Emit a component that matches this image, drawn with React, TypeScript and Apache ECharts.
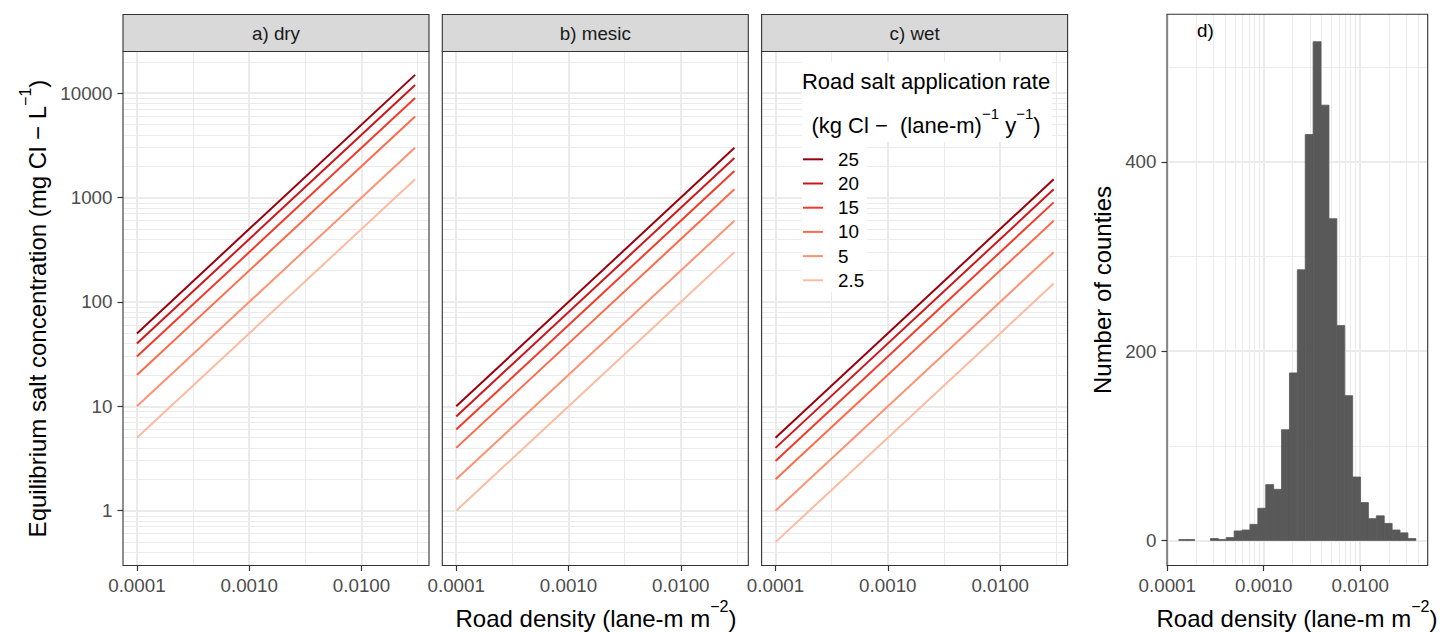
import React, { useEffect, useRef } from 'react';
import * as echarts from 'echarts';

const FONT = "'Liberation Sans', Arial, Helvetica, sans-serif";

// ---------- data ----------
const rates = ['25', '20', '15', '10', '5', '2.5'];
const rateColors = ['#99000D', '#CB181D', '#EF3B2C', '#FB6A4A', '#FC9272', '#FCBBA1'];
const roadDensityEnds = [0.0001, 0.03];
const dryConc = [[50, 15000], [40, 12000], [30, 9000], [20, 6000], [10, 3000], [5, 1500]];
const mesicConc = [[10, 3000], [8, 2400], [6, 1800], [4, 1200], [2, 600], [1, 300]];
const wetConc = [[5, 1500], [4, 1200], [3, 900], [2, 600], [1, 300], [0.5, 150]];
const panelTitles = ['a) dry', 'b) mesic', 'c) wet'];
const xTickValues = [0.0001, 0.001, 0.01];
const yTickValues = [1, 10, 100, 1000, 10000];
const histCounts = [1, 1, 0, 0, 2, 1, 3, 10, 11, 17, 34, 59, 54, 117, 177, 286, 429, 527, 460, 340, 227, 153, 67, 40, 23, 26, 18, 11, 8, 2];
const histFirstEdge = 0.0001318; // road density at the first bin's left edge
const histBinWidthLog10 = 0.0819; // bin width in log10 units
const histYTicks = [0, 200, 400];
const histYMinor = [100, 300, 500];

// ---------- layout ----------
const panelLefts = [123, 442.3, 761.6];
const panelW = 306;
const panelTop = 51.5;
const panelH = 514;
const stripTop = 14.5;
const stripH = 37;
const dLeft = 1167;
const dTop = 14.3;
const dW = 260.7;
const dH = 551.2;
const XR = [-4.124, -1.399];
const YR = [-0.525, 4.4];
const DXR = [-4.003, -1.3];
const DYR = [-26.5, 556];

const GRID_COLOR = '#ebebeb';
const L10 = (v: number) => Math.log10(v);

function logMinor(lo: number, hi: number) {
  const out: number[] = [];
  for (let n = -6; n <= 6; n++) {
    for (let k = 2; k <= 9; k++) {
      const v = Math.log10(k) + n;
      if (v > lo && v < hi) out.push(v);
    }
  }
  return out;
}

function gridSeries(idx: number, xMaj: number[], xMin: number[], yMaj: number[], yMin: number[]) {
  const item = (key: string, v: number, w: number) => ({ [key]: v, lineStyle: { color: GRID_COLOR, width: w, type: 'solid' } });
  return {
    type: 'line',
    xAxisIndex: idx,
    yAxisIndex: idx,
    data: [],
    silent: true,
    z: 0,
    markLine: {
      silent: true,
      z: 0,
      symbol: ['none', 'none'],
      label: { show: false },
      emphasis: { disabled: true },
      animation: false,
      data: [
        ...xMin.map((v) => item('xAxis', v, 1)),
        ...yMin.map((v) => item('yAxis', v, 1)),
        ...xMaj.map((v) => item('xAxis', v, 2)),
        ...yMaj.map((v) => item('yAxis', v, 2)),
      ],
    },
  };
}

function buildOption() {
  const grids: any[] = panelLefts.map((l) => ({ left: l, top: panelTop, width: panelW, height: panelH, show: false }));
  grids.push({ left: dLeft, top: dTop, width: dW, height: dH, show: false });

  const tickStyle = { show: true, length: 5.5, lineStyle: { color: '#333333', width: 1.2 } };
  const labelStyle = { color: '#4d4d4d', fontSize: 18.8, fontFamily: FONT, margin: 10.5 };
  const xLogTicks = xTickValues.map(L10);
  const xFmt = (v: number) => Math.pow(10, v).toFixed(4);

  const xAxes: any[] = [0, 1, 2].map((i) => ({
    type: 'value', gridIndex: i, min: XR[0], max: XR[1],
    axisLine: { show: false, onZero: false }, splitLine: { show: false },
    axisTick: { ...tickStyle, customValues: xLogTicks },
    axisLabel: { ...labelStyle, customValues: xLogTicks, formatter: xFmt },
  }));
  xAxes.push({
    type: 'value', gridIndex: 3, min: DXR[0], max: DXR[1],
    axisLine: { show: false, onZero: false }, splitLine: { show: false },
    axisTick: { ...tickStyle, customValues: xLogTicks },
    axisLabel: { ...labelStyle, customValues: xLogTicks, formatter: xFmt },
  });

  const yLogTicks = yTickValues.map(L10);
  const yAxes: any[] = [0, 1, 2].map((i) => ({
    type: 'value', gridIndex: i, min: YR[0], max: YR[1],
    axisLine: { show: false, onZero: false }, splitLine: { show: false },
    axisTick: i === 0 ? { ...tickStyle, customValues: yLogTicks } : { show: false },
    axisLabel: i === 0
      ? { ...labelStyle, customValues: yLogTicks, formatter: (v: number) => String(Math.round(Math.pow(10, v))) }
      : { show: false },
  }));
  yAxes.push({
    type: 'value', gridIndex: 3, min: DYR[0], max: DYR[1],
    axisLine: { show: false, onZero: false }, splitLine: { show: false },
    axisTick: { ...tickStyle, customValues: histYTicks },
    axisLabel: { ...labelStyle, customValues: histYTicks, formatter: (v: number) => String(v) },
  });

  const series: any[] = [];
  const xMinorABC = [-3.5, -2.5, -1.5];
  for (let p = 0; p < 3; p++) {
    series.push(gridSeries(p, xLogTicks, xMinorABC, yLogTicks, logMinor(YR[0], YR[1])));
  }
  series.push(gridSeries(3, xLogTicks.filter((v) => v > DXR[0]), logMinor(DXR[0], DXR[1]), histYTicks, histYMinor));

  const concs = [dryConc, mesicConc, wetConc];
  concs.forEach((conc, p) => {
    conc.forEach((vals, r) => {
      series.push({
        type: 'line', name: rates[r], xAxisIndex: p, yAxisIndex: p,
        data: roadDensityEnds.map((x, j) => [L10(x), L10(vals[j])]),
        showSymbol: false, symbol: 'none', silent: true, z: 10,
        lineStyle: { color: rateColors[r], width: 2 },
        itemStyle: { color: rateColors[r] },
      });
    });
  });

  const firstLog = L10(histFirstEdge);
  series.push({
    type: 'custom', xAxisIndex: 3, yAxisIndex: 3, z: 10, silent: true,
    data: histCounts.map((c, i) => [firstLog + i * histBinWidthLog10, firstLog + (i + 1) * histBinWidthLog10, c]),
    encode: { x: [0, 1], y: 2 },
    renderItem: (params: any, api: any) => {
      const c = api.value(2);
      if (!c) return null;
      const p0 = api.coord([api.value(0), c]);
      const p1 = api.coord([api.value(1), 0]);
      return {
        type: 'rect',
        z2: 10,
        shape: { x: p0[0], y: p0[1], width: p1[0] - p0[0], height: p1[1] - p0[1] },
        style: { fill: '#595959', stroke: '#595959', lineWidth: 0.8 },
      };
    },
  });

  const graphic: any[] = [];
  // strips
  panelLefts.forEach((l, i) => {
    graphic.push({ type: 'rect', z: 100, shape: { x: l, y: stripTop, width: panelW, height: stripH }, style: { fill: '#d9d9d9', stroke: '#333333', lineWidth: 1.1 } });
    graphic.push({ type: 'text', z: 101, x: l + panelW / 2, y: stripTop + stripH / 2, style: { text: panelTitles[i], fill: '#1a1a1a', fontSize: 18.8, fontFamily: FONT, align: 'center', verticalAlign: 'middle' } });
  });
  // legend backgrounds
  graphic.push({ type: 'rect', z: 50, shape: { x: 802, y: 62, width: 250, height: 80 }, style: { fill: '#ffffff' } });
  graphic.push({ type: 'rect', z: 50, shape: { x: 802, y: 142, width: 65, height: 150 }, style: { fill: '#ffffff' } });
  graphic.push({ type: 'text', z: 51, x: 926, y: 81, style: { text: 'Road salt application rate', fill: '#000', fontSize: 22, fontFamily: FONT, align: 'center', verticalAlign: 'middle' } });
  const richMain = (fs: number, lh: number) => ({ fontSize: fs, fontFamily: FONT, fill: '#000', lineHeight: lh, verticalAlign: 'bottom' });
  const richSup = (fs: number) => ({ fontSize: fs, fontFamily: FONT, fill: '#000', lineHeight: fs, verticalAlign: 'top' });
  graphic.push({
    type: 'text', z: 51, x: 926, y: 121,
    style: {
      text: '{m|(kg Cl −  (lane-m)}{s|−1}{m| y}{s|−1}{m|)}',
      align: 'center', verticalAlign: 'middle',
      rich: { m: richMain(22, 30), s: richSup(15) },
    },
  });
  rates.forEach((r, i) => {
    const yy = 159.3 + i * 24.2;
    graphic.push({ type: 'line', z: 51, shape: { x1: 803, y1: yy, x2: 823, y2: yy }, style: { stroke: rateColors[i], lineWidth: 2 } });
    graphic.push({ type: 'text', z: 51, x: 838, y: yy, style: { text: r, fill: '#000', fontSize: 18.8, fontFamily: FONT, align: 'left', verticalAlign: 'middle' } });
  });
  // panel borders
  panelLefts.forEach((l) => {
    graphic.push({ type: 'rect', z: 100, shape: { x: l, y: panelTop, width: panelW, height: panelH }, style: { fill: 'none', stroke: '#333333', lineWidth: 1.1 } });
  });
  graphic.push({ type: 'rect', z: 100, shape: { x: dLeft, y: dTop, width: dW, height: dH }, style: { fill: 'none', stroke: '#333333', lineWidth: 1.1 } });
  graphic.push({ type: 'text', z: 101, x: 1197, y: 30, style: { text: 'd)', fill: '#000', fontSize: 18.8, fontFamily: FONT, align: 'left', verticalAlign: 'middle' } });

  // axis titles
  graphic.push({
    type: 'text', z: 101, x: 596, y: 614,
    style: { text: '{m|Road density (lane-m m}{s|−2}{m|)}', align: 'center', verticalAlign: 'middle', rich: { m: richMain(24, 32), s: richSup(16) } },
  });
  graphic.push({
    type: 'text', z: 101, x: 1297, y: 614,
    style: { text: '{m|Road density (lane-m m}{s|−2}{m|)}', align: 'center', verticalAlign: 'middle', rich: { m: richMain(24, 32), s: richSup(16) } },
  });
  graphic.push({
    type: 'text', z: 101, x: 33, y: 308.5, rotation: Math.PI / 2,
    style: { text: '{m|Equilibrium salt concentration (mg Cl − L}{s|−1}{m|)}', align: 'center', verticalAlign: 'middle', rich: { m: richMain(24, 32), s: richSup(16) } },
  });
  graphic.push({
    type: 'text', z: 101, x: 1102, y: 290, rotation: Math.PI / 2,
    style: { text: 'Number of counties', fill: '#000', fontSize: 24, fontFamily: FONT, align: 'center', verticalAlign: 'middle' },
  });

  return {
    animation: false,
    backgroundColor: '#ffffff',
    textStyle: { fontFamily: FONT },
    grid: grids,
    xAxis: xAxes,
    yAxis: yAxes,
    series,
    graphic: { elements: graphic },
  };
}

export default function App() {
  const ref = useRef<HTMLDivElement>(null);
  useEffect(() => {
    if (!ref.current) return;
    const chart = echarts.init(ref.current, null, { renderer: 'svg' });
    chart.setOption(buildOption() as any);
    return () => chart.dispose();
  }, []);
  return <div ref={ref} style={{ position: 'fixed', left: 0, top: 0, width: 1440, height: 632, background: '#fff' }} />;
}
